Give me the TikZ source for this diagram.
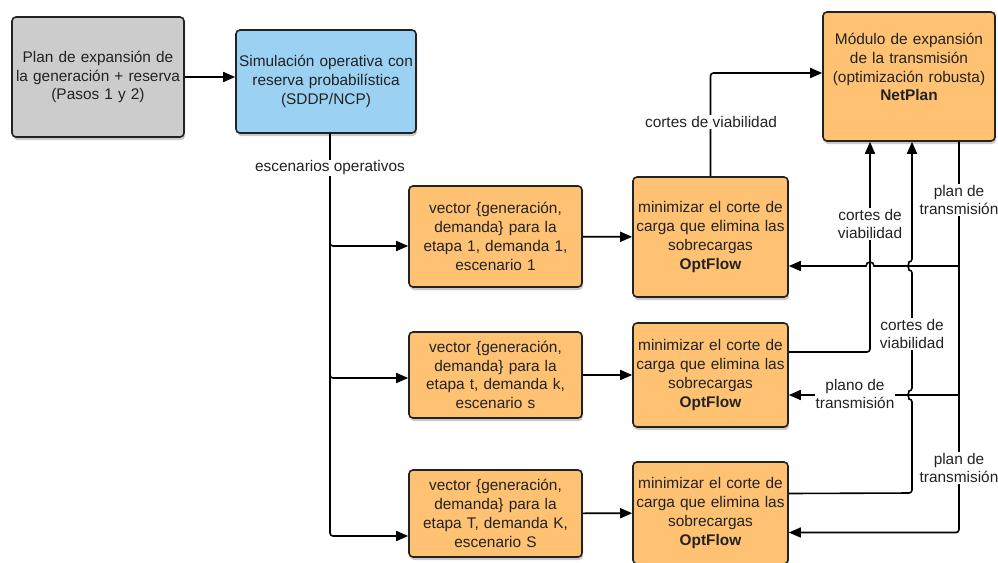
\documentclass[tikz,border=0pt]{standalone}
\usepackage{fontspec}
\setmainfont{Liberation Sans}
\usetikzlibrary{arrows.meta,shadows}
\definecolor{boxgray}{HTML}{CCCCCC}
\definecolor{boxblue}{HTML}{9BD1F2}
\definecolor{boxorange}{HTML}{FFC273}
\definecolor{edge}{HTML}{222222}

\begin{document}
\begin{tikzpicture}[x=1pt, y=-1pt,
    box/.style={draw=edge, line width=1.6pt, rounded corners=4pt, align=center, inner sep=2pt, text=edge,
        font=\fontsize{15.4}{18.8}\selectfont,
        drop shadow={shadow xshift=1pt, shadow yshift=-3pt, opacity=0.35, fill=black!60}},
    arr/.style={line width=1.6pt, -{Triangle[length=12pt, width=10pt]}},
    lab/.style={fill=white, align=center, inner sep=1pt, text=edge, font=\fontsize{15.4}{18}\selectfont}]
        \useasboundingbox (0,0) rectangle (998,562);

        \node[box, fill=boxgray, minimum width=172pt, minimum height=120pt, text width=166pt] (1) at (98,77) {Plan de expansión de\\la generación + reserva\\(Pasos 1 y 2)};
        \node[box, fill=boxblue, minimum width=180pt, minimum height=103pt, text width=176pt] (2) at (326,81.5) {Simulación operativa con\\reserva probabilística\\(SDDP/NCP)};
        \node[box, fill=boxorange, minimum width=172pt, minimum height=129pt, text width=166pt] (3) at (909,76.5) {Módulo de expansión\\de la transmisión\\(optimización robusta)\\\textbf{NetPlan}\\\mbox{}};

        \node[box, fill=boxorange, minimum width=173pt, minimum height=101pt, text width=167pt] (4) at (495.5,236.5) {vector \{generación,\\demanda\} para la\\etapa 1, demanda 1,\\escenario 1};
        \node[box, fill=boxorange, minimum width=173pt, minimum height=86pt, text width=167pt] (5) at (495.5,375) {vector \{generación,\\demanda\} para la\\etapa t, demanda k,\\escenario s};
        \node[box, fill=boxorange, minimum width=173pt, minimum height=87pt, text width=167pt] (6) at (495.5,513.5) {vector \{generación,\\demanda\} para la\\etapa T, demanda K,\\escenario S};

        \node[box, fill=boxorange, minimum width=155pt, minimum height=120pt, text width=151pt] (7) at (710.5,237) {minimizar el corte de\\carga que elimina las\\sobrecargas\\\textbf{OptFlow}};
        \node[box, fill=boxorange, minimum width=155pt, minimum height=104pt, text width=151pt] (8) at (710.5,375) {minimizar el corte de\\carga que elimina las\\sobrecargas\\\textbf{OptFlow}};
        \node[box, fill=boxorange, minimum width=155pt, minimum height=102pt, text width=151pt] (9) at (710.5,513) {minimizar el corte de\\carga que elimina las\\sobrecargas\\\textbf{OptFlow}};

        \coordinate (t1) at (959,266);
        \coordinate (t2) at (959,395);
        \coordinate (v) at (912,493);

        \draw[arr] (1.east) -- (2.west |- 1.east);
        \draw[arr, rounded corners=3pt] ([xshift=4pt]2.south) |- ([yshift=-9.5pt]4.west);
        \draw[arr, rounded corners=3pt] ([xshift=4pt]2.south) |- ([yshift=-3pt]5.west);
        \draw[arr, rounded corners=3pt] ([xshift=4pt]2.south) |- ([yshift=-22.5pt]6.west);

        \draw[arr] (4) -- (7);
        \draw[arr] (5) -- (8);
        \draw[arr] (6) -- (9);

        \draw[arr, rounded corners=3pt] (7.north) |- ([yshift=3.5pt]3.west);
        \draw[arr, rounded corners=3pt] ([yshift=23pt]8.east) -| ([xshift=-39pt]3.south);
        \draw[arr, rounded corners=3pt] ([yshift=19.5pt]9.east) -- (v) -- (912,399) arc[start angle=-90, end angle=-270, radius=4pt] -- (912,270) arc[start angle=-90, end angle=-270, radius=4pt] -- ([xshift=3pt]3.south);
        \draw[arr, rounded corners=3pt] ([xshift=50pt]3.south) |- ([yshift=-19.5pt]9.east);
        \draw[arr] (t1) -- ++(-85,0) arc[start angle=0, end angle=180, radius=4pt] -- ([yshift=-29pt]7.east);
        \draw[arr] (t2) -- ([yshift=-20pt]8.east);

        \node[lab] (l1) at (330,168) {escenarios operativos};
        \node[lab] (l2) at (711,122) {cortes de viabilidad};
        \node[lab] (l3) at (870,224) {cortes de\\viabilidad};
        \node[lab] (l4) at (912,334) {cortes de\\viabilidad};
        \node[lab] (l5) at (959,200) {plan de\\transmisión};
        \node[lab] (l6) at (959,468) {plan de\\transmisión};
        \node[lab] (l7) at (855,394) {plano de\\transmisión};
    \end{tikzpicture}
\end{document}
